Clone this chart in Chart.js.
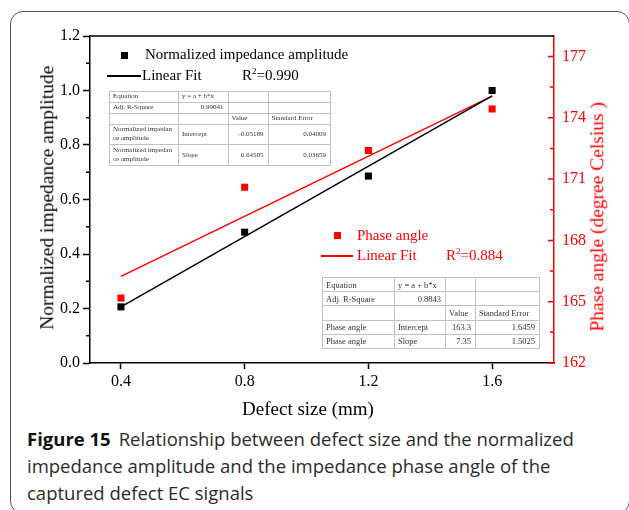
<!DOCTYPE html>
<html>
<head>
<meta charset="utf-8">
<script src="https://cdn.jsdelivr.net/npm/chart.js@4/dist/chart.umd.min.js"></script>
<style>
  html, body { margin: 0; padding: 0; background: #fff; }
  body { width: 629px; height: 510px; position: relative; overflow: hidden; }
  #frame { position: absolute; left: 10px; top: 11px; width: 620px; height: 503px; box-sizing: border-box;
           border: 1.5px solid #555; border-radius: 13px; }
  #plot { position: absolute; left: 0; top: 0; }
  .serif { font-family: "Liberation Serif", "Times New Roman", serif; line-height: 1; white-space: nowrap; position: absolute; }
  .leg { font-size: 15px; color: #000; }
  .leg.red { color: #ff0000; }
  .leg sup { font-size: 9px; vertical-align: 0; position: relative; top: -6px; }
  .mark { position: absolute; }
  .axis-title { font-size: 19.5px; text-align: center; height: 19.5px; width: 320px; transform: rotate(-90deg); }
  table.fit { position: absolute; border-collapse: collapse; table-layout: fixed; border: 1.5px solid #333;
              background: #fff; font-family: "Liberation Serif", "Times New Roman", serif; color: #333; }
  table.fit td { border: 1px solid #c2c2c2; padding: 0 3px; white-space: nowrap; overflow: hidden; vertical-align: middle; }
  table.fit td.num { text-align: right; padding-right: 4px; }
  table.small { font-size: 7px; line-height: 9px; }
  table.large { font-size: 8.5px; line-height: 10px; }
  .caption { position: absolute; left: 27px; font-family: "Open Sans", "Noto Sans", sans-serif; font-size: 18.5px;
             line-height: 27px; color: #2b2b2b; white-space: nowrap; }
  .caption b { color: #111; font-weight: 700; margin-right: 8px; }
</style>
</head>
<body>
<div id="frame"></div>
<canvas id="plot" width="629" height="425"></canvas>

<!-- legends -->
<div class="mark" style="left:120.5px; top:51.5px; width:7px; height:7px; background:#000;"></div>
<div class="serif leg" style="left:145px; top:47.4px;">Normalized impedance amplitude</div>
<div class="mark" style="left:107px; top:75.25px; width:34px; height:1.5px; background:#000;"></div>
<div class="serif leg" style="left:142px; top:68.4px;">Linear Fit</div>
<div class="serif leg" id="ampR2" style="left:242px; top:68.4px;"></div>

<div class="mark" style="left:334.2px; top:232.2px; width:7px; height:7px; background:#ff0000;"></div>
<div class="serif leg red" style="left:357px; top:228.1px;">Phase angle</div>
<div class="mark" style="left:321px; top:255.25px; width:32px; height:1.5px; background:#ff0000;"></div>
<div class="serif leg red" style="left:357px; top:248.4px;">Linear Fit</div>
<div class="serif leg red" id="phaseR2" style="left:446px; top:248.4px;"></div>

<!-- fit tables -->
<table class="fit small" id="ampTable" style="left:109px; top:91px; width:221px; height:75px;">
  <colgroup><col style="width:69px"><col style="width:49.5px"><col style="width:40px"><col style="width:62.5px"></colgroup>
</table>
<table class="fit large" id="phaseTable" style="left:322px; top:277px; width:217px; height:72px;">
  <colgroup><col style="width:72px"><col style="width:51px"><col style="width:30px"><col style="width:64px"></colgroup>
</table>

<!-- axis titles -->
<div class="serif axis-title" style="left:-113.5px; top:188.25px; color:#000;">Normalized impedance amplitude</div>
<div class="serif axis-title" style="left:437.4px; top:207.25px; color:#ff0000;">Phase angle (degree Celsius )</div>
<div class="serif" style="left:208px; top:399px; width:200px; text-align:center; font-size:19px; color:#000;">Defect size (mm)</div>

<!-- caption -->
<div class="caption" style="top:425.3px;"><b>Figure 15</b>Relationship between defect size and the normalized</div>
<div class="caption" style="top:452.3px;">impedance amplitude and the impedance phase angle of the</div>
<div class="caption" style="top:479.3px;">captured defect EC signals</div>

<script>
// Measured defect sizes (mm) and the two responses
const defectSize = [0.4, 0.8, 1.2, 1.6];
const normAmplitude = [0.206, 0.48, 0.686, 1.0];
const phaseAngle = [165.18, 170.6, 172.4, 174.43];

// Linear fit results y = a + b*x : [intercept, slope]
const ampFitValue = [-0.05189, 0.64505];
const ampFitError = [0.04009, 0.03659];
const ampAdjR2 = 0.99041;
const ampR2 = '0.990';
const phaseFitValue = [163.3, 7.35];
const phaseFitError = [1.6459, 1.5025];
const phaseAdjR2 = 0.8843;
const phaseR2 = '0.884';

// Axis ticks
const xTicks = [0.4, 0.8, 1.2, 1.6];
const yTicks = [0, 0.2, 0.4, 0.6, 0.8, 1.0, 1.2];
const yMinorTicks = [0.1, 0.3, 0.5, 0.7, 0.9, 1.1];
const y2Ticks = [162, 165, 168, 171, 174, 177];
const y2MinorTicks = [163.5, 166.5, 169.5, 172.5, 175.5];

const RED = '#ff0000';
const SERIF = "'Liberation Serif', 'Times New Roman', serif";

// Fit lines span the measured range
const fitLine = (coef) => [defectSize[0], defectSize[defectSize.length - 1]]
  .map(x => ({ x, y: coef[0] + coef[1] * x }));

// R² labels
document.getElementById('ampR2').innerHTML = 'R<sup>2</sup>=' + ampR2;
document.getElementById('phaseR2').innerHTML = 'R<sup>2</sup>=' + phaseR2;

// Fit parameter tables
function fillTable(id, seriesName, fitValue, fitError, adjR2) {
  const rows = [
    ['Equation', 'y = a + b*x', '', ''],
    ['Adj. R-Square', String(adjR2), '', ''],
    ['', '', 'Value', 'Standard Error'],
    [seriesName, 'Intercept', String(fitValue[0]), String(fitError[0])],
    [seriesName, 'Slope', String(fitValue[1]), String(fitError[1])]
  ];
  const table = document.getElementById(id);
  const body = document.createElement('tbody');
  rows.forEach(r => {
    const tr = document.createElement('tr');
    r.forEach(text => {
      const td = document.createElement('td');
      if (/^-?\d/.test(text)) td.className = 'num';
      td.innerHTML = text.replace('\n', '<br>');
      tr.appendChild(td);
    });
    body.appendChild(tr);
  });
  table.appendChild(body);
}
fillTable('ampTable', 'Normalized impedan\nce amplitude', ampFitValue, ampFitError, ampAdjR2);
fillTable('phaseTable', 'Phase angle', phaseFitValue, phaseFitError, phaseAdjR2);

// Minor ticks, inward right-axis ticks and the top frame line
const axisExtras = {
  id: 'axisExtras',
  beforeDatasetsDraw(chart) {
    const { ctx, chartArea, scales } = chart;
    ctx.save();
    ctx.lineWidth = 1.5;
    ctx.strokeStyle = '#000';
    ctx.beginPath();
    ctx.moveTo(chartArea.left - 0.75, chartArea.top);
    ctx.lineTo(chartArea.right, chartArea.top);
    yMinorTicks.forEach(v => {
      const py = scales.y.getPixelForValue(v);
      ctx.moveTo(chartArea.left, py);
      ctx.lineTo(chartArea.left - 4, py);
    });
    ctx.stroke();
    ctx.strokeStyle = RED;
    ctx.beginPath();
    y2Ticks.forEach(v => {
      const py = scales.y2.getPixelForValue(v);
      ctx.moveTo(chartArea.right, py);
      ctx.lineTo(chartArea.right - 6, py);
    });
    y2MinorTicks.forEach(v => {
      const py = scales.y2.getPixelForValue(v);
      ctx.moveTo(chartArea.right, py);
      ctx.lineTo(chartArea.right - 4, py);
    });
    ctx.stroke();
    ctx.restore();
  }
};

new Chart(document.getElementById('plot'), {
  type: 'scatter',
  data: {
    datasets: [
      {
        label: 'Linear Fit', type: 'line', data: fitLine(ampFitValue), yAxisID: 'y',
        borderColor: '#000', borderWidth: 1.5, pointRadius: 0, fill: false
      },
      {
        label: 'Linear Fit', type: 'line', data: fitLine(phaseFitValue), yAxisID: 'y2',
        borderColor: RED, borderWidth: 1.5, pointRadius: 0, fill: false
      },
      {
        label: 'Normalized impedance amplitude', yAxisID: 'y',
        data: defectSize.map((x, i) => ({ x, y: normAmplitude[i] })),
        pointStyle: 'rect', pointRadius: 5, backgroundColor: '#000', borderWidth: 0
      },
      {
        label: 'Phase angle', yAxisID: 'y2',
        data: defectSize.map((x, i) => ({ x, y: phaseAngle[i] })),
        pointStyle: 'rect', pointRadius: 5, backgroundColor: RED, borderWidth: 0
      }
    ]
  },
  options: {
    responsive: false,
    animation: false,
    events: [],
    layout: { padding: { top: 36, left: 0, right: 0, bottom: 0 } },
    plugins: { legend: { display: false }, tooltip: { enabled: false } },
    scales: {
      x: {
        type: 'linear', position: 'bottom', min: 0.3, max: 1.8,
        afterBuildTicks: s => { s.ticks = xTicks.map(value => ({ value })); },
        afterFit: s => { s.height = 62; },
        grid: { drawOnChartArea: false, drawTicks: true, tickLength: 6, tickColor: '#000', tickWidth: 1.5 },
        border: { color: '#000', width: 1.5 },
        ticks: { color: '#000', font: { family: SERIF, size: 16 }, padding: 3, maxRotation: 0,
                 callback: v => Number(v).toFixed(1) }
      },
      y: {
        type: 'linear', position: 'left', min: 0, max: 1.2,
        afterBuildTicks: s => { s.ticks = yTicks.map(value => ({ value })); },
        afterFit: s => { s.width = 90; },
        grid: { drawOnChartArea: false, drawTicks: true, tickLength: 7, tickColor: '#000', tickWidth: 1.5 },
        border: { color: '#000', width: 1.5 },
        ticks: { color: '#000', font: { family: SERIF, size: 16 }, padding: 3,
                 callback: v => Number(v).toFixed(1) }
      },
      y2: {
        type: 'linear', position: 'right', min: 162, max: 178,
        afterBuildTicks: s => { s.ticks = y2Ticks.map(value => ({ value })); },
        afterFit: s => { s.width = 75; },
        grid: { drawOnChartArea: false, drawTicks: false },
        border: { color: RED, width: 1.5 },
        ticks: { color: RED, font: { family: SERIF, size: 16 }, padding: 8,
                 callback: v => String(v) }
      }
    }
  },
  plugins: [axisExtras]
});
</script>
</body>
</html>
